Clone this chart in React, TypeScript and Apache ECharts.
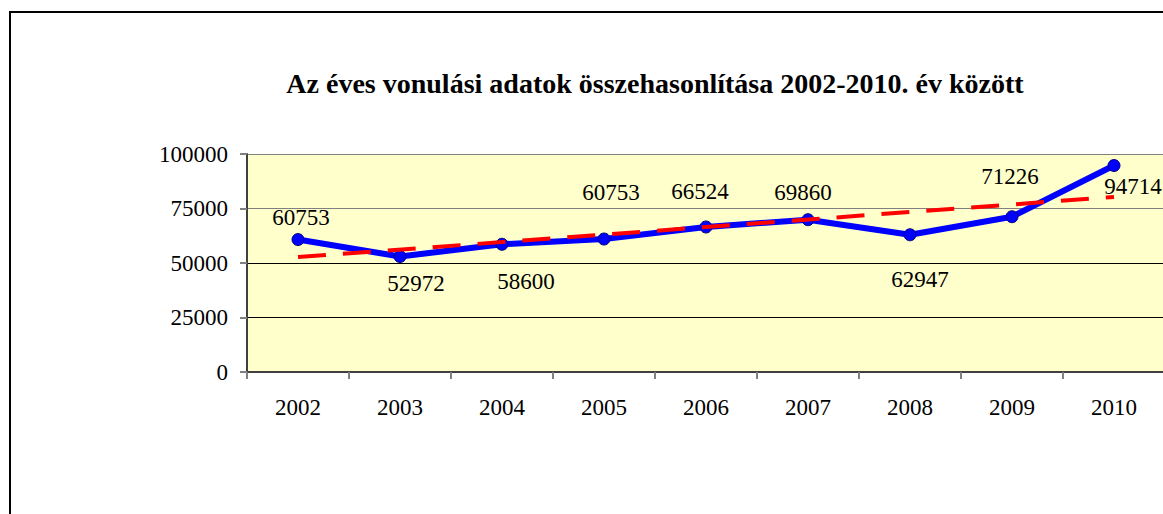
import React, { useEffect, useRef } from "react";
import * as echarts from "echarts";

const years = ["2002", "2003", "2004", "2005", "2006", "2007", "2008", "2009", "2010"];
const values = [60753, 52972, 58600, 61000, 66524, 69860, 62947, 71226, 94714];
const labelTexts = ["60753", "52972", "58600", "60753", "66524", "69860", "62947", "71226", "94714"];
const trendStart = 52700;
const trendEnd = 80300;
const yTicks = [0, 25000, 50000, 75000, 100000];

const labelOffsets: [number, number][] = [
  [3, -22], [16, 27], [24, 37], [7, -47], [-6, -35], [-5, -27], [10, 45], [-2, -40], [19, 21],
];

const FONT = "Liberation Serif, Times New Roman, serif";

export default function App() {
  const ref = useRef<HTMLDivElement>(null);
  useEffect(() => {
    if (!ref.current) return;
    const chart = echarts.init(ref.current, undefined, { renderer: "svg" });
    chart.setOption({
      animation: false,
      backgroundColor: "#ffffff",
      title: {
        text: "Az éves vonulási adatok összehasonlítása 2002-2010. év között",
        left: 650,
        top: 64,
        textAlign: "center",
        textStyle: { fontFamily: FONT, fontWeight: "bold", fontSize: 28, color: "#000" },
      },
      graphic: [
        {
          type: "rect",
          shape: { x: 10, y: 12, width: 1400, height: 700 },
          style: { fill: "none", stroke: "#000", lineWidth: 2 },
          z: 100,
        },
      ],
      grid: {
        left: 247,
        top: 154,
        width: 918,
        height: 218,
        show: true,
        backgroundColor: "#FFFFCC",
        borderWidth: 0,
      },
      xAxis: {
        type: "category",
        data: years,
        boundaryGap: true,
        axisLine: { show: true, lineStyle: { color: "#404040", width: 2 } },
        axisTick: { show: true, length: 7, lineStyle: { color: "#808080", width: 2 } },
        axisLabel: { margin: 24, fontFamily: FONT, fontSize: 23, color: "#000" },
        splitLine: { show: false },
      },
      yAxis: {
        type: "value",
        min: yTicks[0],
        max: yTicks[yTicks.length - 1],
        interval: 25000,
        axisLine: { show: true, lineStyle: { color: "#404040", width: 2 } },
        axisTick: { show: true, length: 7, lineStyle: { color: "#808080", width: 2 } },
        axisLabel: {
          margin: 19,
          fontFamily: FONT,
          fontSize: 23,
          color: "#000",
          formatter: (v: number) => String(v),
        },
        splitLine: {
          show: true,
          lineStyle: { color: ["#000000", "#000000", "#000000", "#808080", "#808080"], width: 1 },
        },
      },
      series: [
        {
          type: "line",
          data: values.map((v, i) => ({
            value: v,
            label: {
              show: true,
              position: "inside",
              offset: labelOffsets[i],
              formatter: labelTexts[i],
              fontFamily: FONT,
              fontSize: 23,
              color: "#000",
            },
          })),
          symbol: "circle",
          symbolSize: 12,
          lineStyle: { color: "#0000FF", width: 6 },
          itemStyle: { color: "#0000FF", borderColor: "#000080", borderWidth: 1 },
          z: 2,
        },
        {
          type: "line",
          data: [
            [years[0], trendStart],
            [years[years.length - 1], trendEnd],
          ],
          symbol: "none",
          lineStyle: { color: "#FF0000", width: 4, type: [28, 17] },
          z: 3,
        },
      ],
    });
    return () => chart.dispose();
  }, []);
  return (
    <div style={{ position: "fixed", left: 0, top: 0, width: 1163, height: 514, overflow: "hidden", background: "#fff" }}>
      <div ref={ref} style={{ width: 1180, height: 514 }} />
    </div>
  );
}
